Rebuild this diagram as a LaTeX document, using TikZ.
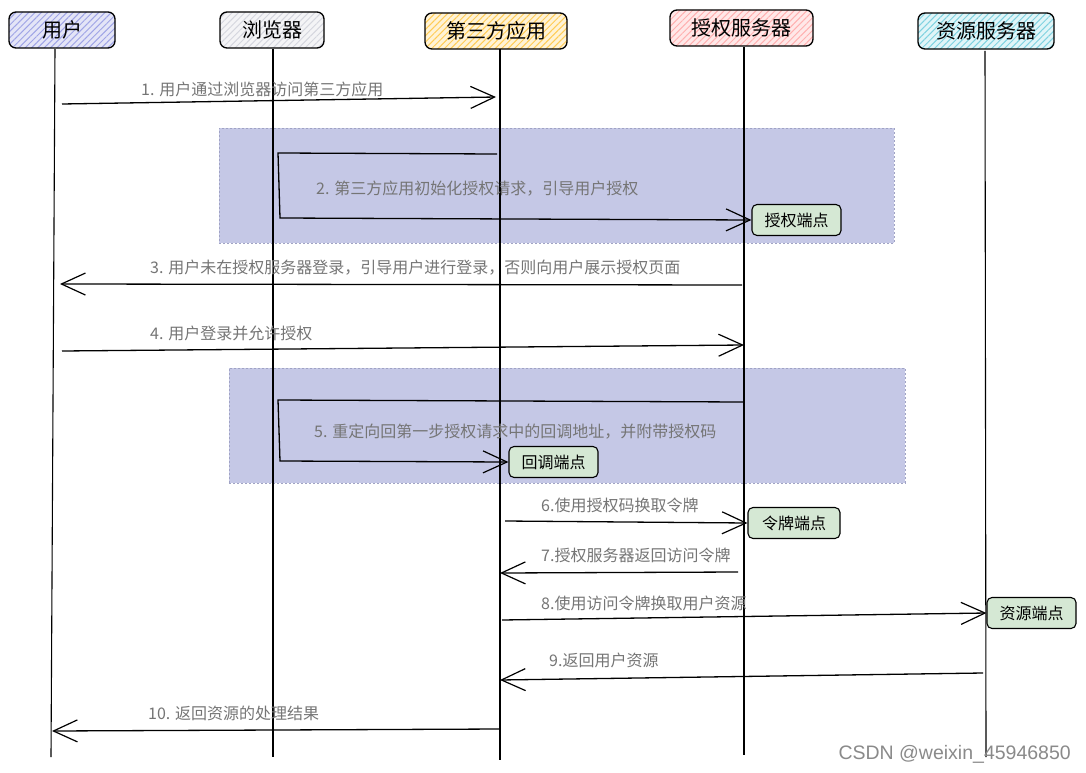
\documentclass[tikz,border=0pt]{standalone}
\usepackage{fontspec}
\setmainfont{Noto Sans CJK SC}
\newfontfamily\markfont{Liberation Sans}
\usetikzlibrary{arrows.meta,patterns.meta}
\definecolor{cUser}{HTML}{9FA4E6}
\definecolor{cUserBg}{HTML}{E4E5F7}
\definecolor{cBrow}{HTML}{D5D6DE}
\definecolor{cBrowBg}{HTML}{F4F4F6}
\definecolor{cApp}{HTML}{FFCC55}
\definecolor{cAppBg}{HTML}{FFF3D6}
\definecolor{cAuth}{HTML}{FFB0B0}
\definecolor{cAuthBg}{HTML}{FFE8E8}
\definecolor{cRes}{HTML}{7FD2E0}
\definecolor{cResBg}{HTML}{E0F5F8}
\definecolor{cEp}{HTML}{D5E8D4}
\definecolor{cRegion}{HTML}{C5C8E6}
\definecolor{cRegionBd}{HTML}{A0A3C4}
\definecolor{cLabel}{HTML}{757575}
\definecolor{cMark}{HTML}{8A8A8A}
\tikzset{
  actor/.style={draw=black, line width=1.3pt, rounded corners=7pt, minimum height=36pt,
    inner sep=0pt, font=\fontsize{20}{22}\selectfont},
  hatched/.style n args={2}{preaction={fill=#2}, pattern={Lines[angle=45,distance=4.5pt,line width=1pt]}, pattern color=#1},
  life/.style={draw=black, line width=1.1pt},
  msg/.style={draw=black, line width=1.3pt, -{Straight Barb[length=24pt,width=22pt,line width=1.2pt]}},
  lbl/.style={anchor=west, text=cLabel, inner sep=0pt, font=\fontsize{16}{18}\selectfont},
  endpt/.style={draw=black, fill=cEp, line width=1.1pt, rounded corners=5pt, minimum width=89pt,
    minimum height=31pt, inner sep=0pt, font=\fontsize{16}{18}\selectfont},
  region/.style={fill=cRegion, draw=cRegionBd, line width=0.8pt, dash pattern=on 2pt off 2pt,
    inner sep=0pt},
}
\begin{document}
\begin{tikzpicture}[x=1pt,y=-1pt]
\useasboundingbox (0,0) rectangle (1086,773);
\fill[white] (0,0) rectangle (1086,773);
% shaded regions
\node[region, minimum width=675pt, minimum height=115pt] (reg1) at (556.5,185.5) {};
\node[region, minimum width=676pt, minimum height=115pt] (reg2) at (567,425.5) {};
% headers
\node[actor, hatched={cUser}{cUserBg}, minimum width=106pt] (user) at (62,30) {用户};
\node[actor, hatched={cBrow}{cBrowBg}, minimum width=104pt] (browser) at (272,30) {浏览器};
\node[actor, hatched={cApp}{cAppBg}, minimum width=142pt] (app) at (496,31) {第三方应用};
\node[actor, hatched={cAuth}{cAuthBg}, minimum width=143pt] (auth) at (741.5,28) {授权服务器};
\node[actor, hatched={cRes}{cResBg}, minimum width=136pt] (res) at (986,31) {资源服务器};
% lifelines
\coordinate (uTop) at (55,49);   \coordinate (uBot) at (51,757);
\coordinate (bTop) at (273,49);  \coordinate (bBot) at (273,757);
\coordinate (aTop) at (500,49);  \coordinate (aBot) at (500,760);
\coordinate (sTop) at (744,47);  \coordinate (sBot) at (744,755);
\coordinate (rTop) at (985,51);  \coordinate (rBot) at (986,757);
\draw[life] (uTop) -- (uBot);
\draw[life] (bTop) -- (bBot);
\draw[life] (aTop) -- (aBot);
\draw[life] (sTop) -- (sBot);
\draw[life] (rTop) -- (rBot);
% endpoint nodes
\node[endpt] (ep1) at (796.5,220) {授权端点};
\node[endpt] (ep2) at (553.5,462) {回调端点};
\node[endpt, minimum width=92pt] (ep3) at (794,523) {令牌端点};
\node[endpt] (ep4) at (1031.5,613) {资源端点};
% message 1
\coordinate (m1s) at (62,104); \coordinate (m1e) at (496,97);
\draw[msg] (m1s) -- (m1e);
\node[lbl] (l1) at (141,89) {1. 用户通过浏览器访问第三方应用};
% message 2
\coordinate (m2s) at (497,154); \coordinate (m2a) at (278,153); \coordinate (m2b) at (280,218);
\draw[msg] (m2s) -- (m2a) -- (m2b) -- (ep1.west);
\node[lbl] (l2) at (316,189) {2. 第三方应用初始化授权请求，引导用户授权};
% message 3
\coordinate (m3s) at (742,285); \coordinate (m3e) at (60,284);
\draw[msg] (m3s) -- (m3e);
\node[lbl] (l3) at (150,268) {3. 用户未在授权服务器登录，引导用户进行登录，否则向用户展示授权页面};
% message 4
\coordinate (m4s) at (62,351); \coordinate (m4e) at (744,345);
\draw[msg] (m4s) -- (m4e);
\node[lbl] (l4) at (150,333) {4. 用户登录并允许授权};
% message 5
\coordinate (m5s) at (744,402); \coordinate (m5a) at (278,400); \coordinate (m5b) at (280,461);
\draw[msg] (m5s) -- (m5a) -- (m5b) -- (ep2.west);
\node[lbl] (l5) at (314,432) {5. 重定向回第一步授权请求中的回调地址，并附带授权码};
% message 6
\coordinate (m6s) at (505,521);
\draw[msg] (m6s) -- (ep3.west);
\node[lbl] (l6) at (541,505) {6.使用授权码换取令牌};
% message 7
\coordinate (m7s) at (738,572); \coordinate (m7e) at (500,573);
\draw[msg] (m7s) -- (m7e);
\node[lbl] (l7) at (541,555) {7.授权服务器返回访问令牌};
% message 8
\coordinate (m8s) at (502,620);
\draw[msg] (m8s) -- (ep4.west);
\node[lbl] (l8) at (541,603) {8.使用访问令牌换取用户资源};
% message 9
\coordinate (m9s) at (983,673); \coordinate (m9e) at (500,680);
\draw[msg] (m9s) -- (m9e);
\node[lbl] (l9) at (549,660) {9.返回用户资源};
% message 10
\coordinate (m10s) at (500,729); \coordinate (m10e) at (52,731);
\draw[msg] (m10s) -- (m10e);
\node[lbl] (l10) at (148,713) {10. 返回资源的处理结果};
% watermark
\node[anchor=east, text=cMark, inner sep=0pt, font=\markfont\fontsize{19.5}{21}\selectfont] (wm) at (1071,754) {CSDN @weixin\_45946850};
\end{tikzpicture}
\end{document}
